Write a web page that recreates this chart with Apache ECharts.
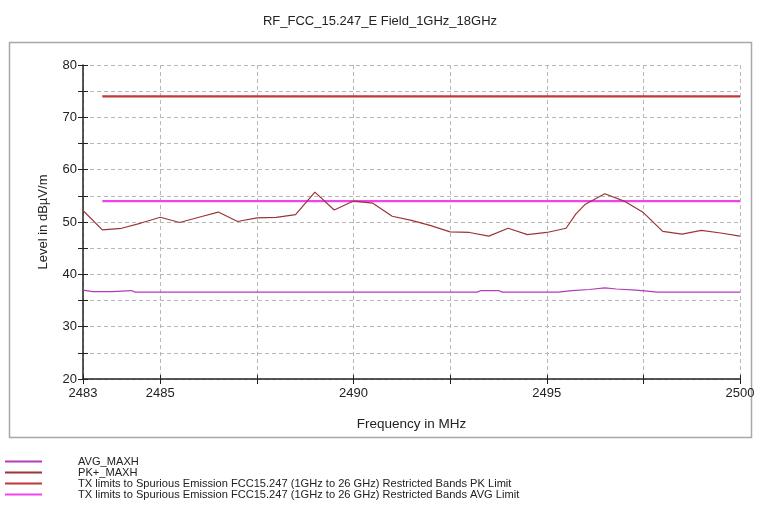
<!DOCTYPE html>
<html>
<head>
<meta charset="utf-8">
<script src="https://cdn.jsdelivr.net/npm/echarts@6/dist/echarts.min.js"></script>
<style>
html,body{margin:0;padding:0;background:#fff;}
#chart{width:760px;height:523px;}
</style>
</head>
<body>
<div id="chart"></div>
<script>
// ---- data ----
const titleText = 'RF_FCC_15.247_E Field_1GHz_18GHz';
const seriesNames = [
  'AVG_MAXH',
  'PK+_MAXH',
  'TX limits to Spurious Emission FCC15.247 (1GHz to 26 GHz) Restricted Bands PK Limit',
  'TX limits to Spurious Emission FCC15.247 (1GHz to 26 GHz) Restricted Bands AVG Limit'
];
const pkFreq = [2483.0, 2483.5, 2484.0, 2484.5, 2485.0, 2485.5, 2486.0, 2486.5, 2487.0, 2487.5,
  2488.0, 2488.5, 2489.0, 2489.5, 2490.0, 2490.5, 2491.0, 2491.5, 2492.0, 2492.5,
  2493.0, 2493.5, 2494.0, 2494.5, 2495.0, 2495.5, 2495.75, 2496.0, 2496.5, 2497.0,
  2497.5, 2498.0, 2498.5, 2499.0, 2499.5, 2500.0];
const pkLevel = [52.2, 48.5, 48.8, 49.8, 50.9, 49.9, 50.9, 51.9, 50.1, 50.8,
  50.9, 51.4, 55.7, 52.3, 54.0, 53.6, 51.1, 50.3, 49.3, 48.1,
  48.0, 47.3, 48.8, 47.6, 48.0, 48.8, 51.5, 53.4, 55.4, 54.0,
  51.8, 48.2, 47.7, 48.4, 47.9, 47.3];
const avgFreq = [2483.0, 2483.25, 2483.75, 2483.8, 2484.25, 2484.35, 2493.2, 2493.3, 2493.75, 2493.85,
  2495.3, 2495.65, 2496.1, 2496.5, 2496.8, 2497.3, 2497.6, 2497.85, 2500.0];
const avgLevel = [37.0, 36.7, 36.7, 36.9, 36.9, 36.6, 36.6, 36.9, 36.9, 36.6,
  36.6, 36.9, 37.1, 37.4, 37.2, 37.0, 36.8, 36.6, 36.6];
const limitFreq = [2483.5, 2500.0];
const pkLimit = [74, 74];
const avgLimit = [54, 54];
const xLabelValues = [2483, 2485, 2490, 2495, 2500];
const xTickValues = [2483, 2485, 2487.5, 2490, 2492.5, 2495, 2497.5, 2500];
const yLabelValues = [20, 30, 40, 50, 60, 70, 80];
const xAxisName = 'Frequency in MHz';
const yAxisName = 'Level in dBµV/m';

// ---- chart ----
const zip = (xs, ys) => xs.map((x, i) => [x, ys[i]]);
const font = 'Arial, "Liberation Sans", sans-serif';
const chart = echarts.init(document.getElementById('chart'), null, {renderer: 'canvas'});
const colors = ['#b23cb8', '#9a3636', '#c03838', '#ee44ee'];
const plain = v => String(v);
chart.setOption({
  animation: false,
  backgroundColor: '#fff',
  title: {
    text: titleText, left: 'center', top: 10,
    textStyle: {fontFamily: font, fontSize: 13, fontWeight: 'normal', color: '#222'}
  },
  graphic: [{
    type: 'rect', shape: {x: 9.5, y: 42.5, width: 742, height: 395},
    style: {fill: 'none', stroke: '#a8a8a8', lineWidth: 1.5}, z: -1
  }],
  legend: {
    orient: 'vertical', left: 0, top: 451, itemGap: 0,
    itemWidth: 37, itemHeight: 2, icon: 'rect',
    textStyle: {fontFamily: font, fontSize: 11.1, color: '#222', lineHeight: 11, padding: [0, 0, 0, 31]},
    data: seriesNames
  },
  grid: {left: 83, right: 20, top: 65, bottom: 144},
  xAxis: [{
    type: 'value', min: 2483, max: 2500,
    name: xAxisName, nameLocation: 'middle', nameGap: 38,
    nameTextStyle: {fontFamily: font, fontSize: 13.5, color: '#222'},
    axisLine: {lineStyle: {color: '#222', width: 1.5}},
    axisTick: {customValues: xTickValues, length: 5, lineStyle: {color: '#222'}},
    axisLabel: {customValues: xLabelValues, formatter: plain, fontFamily: font, fontSize: 13, color: '#222', margin: 8},
    splitLine: {show: true, lineStyle: {type: [4, 3], color: '#b8b8b8'}}
  }, {
    type: 'value', min: 2483, max: 2500, position: 'bottom',
    axisLine: {show: false},
    axisTick: {show: true, inside: true, customValues: xTickValues, length: 4, lineStyle: {color: '#222'}},
    axisLabel: {show: false}, splitLine: {show: false}
  }],
  yAxis: [{
    type: 'value', min: 20, max: 80, interval: 5,
    name: yAxisName, nameLocation: 'middle', nameGap: 33,
    nameTextStyle: {fontFamily: font, fontSize: 13, color: '#222'},
    axisLine: {show: true, lineStyle: {color: '#222', width: 1.5}},
    axisTick: {show: true, length: 5, lineStyle: {color: '#222'}},
    axisLabel: {customValues: yLabelValues, formatter: plain, fontFamily: font, fontSize: 13, color: '#222', margin: 6},
    splitLine: {show: true, lineStyle: {type: [4, 3], color: '#b8b8b8'}}
  }, {
    type: 'value', min: 20, max: 80, interval: 5, position: 'left',
    axisLine: {show: false},
    axisTick: {show: true, inside: true, length: 5, lineStyle: {color: '#222'}},
    axisLabel: {show: false}, splitLine: {show: false}
  }],
  series: [
    {name: seriesNames[0], type: 'line', data: zip(avgFreq, avgLevel), showSymbol: false, symbol: 'none',
      lineStyle: {width: 1.2, color: colors[0]}, itemStyle: {color: colors[0]}, z: 3},
    {name: seriesNames[1], type: 'line', data: zip(pkFreq, pkLevel), showSymbol: false, symbol: 'none',
      lineStyle: {width: 1.2, color: colors[1]}, itemStyle: {color: colors[1]}, z: 3},
    {name: seriesNames[2], type: 'line', data: zip(limitFreq, pkLimit), showSymbol: false, symbol: 'none',
      lineStyle: {width: 2.2, color: colors[2]}, itemStyle: {color: colors[2]}, z: 2},
    {name: seriesNames[3], type: 'line', data: zip(limitFreq, avgLimit), showSymbol: false, symbol: 'none',
      lineStyle: {width: 2.2, color: colors[3]}, itemStyle: {color: colors[3]}, z: 2}
  ]
});
</script>
</body>
</html>
